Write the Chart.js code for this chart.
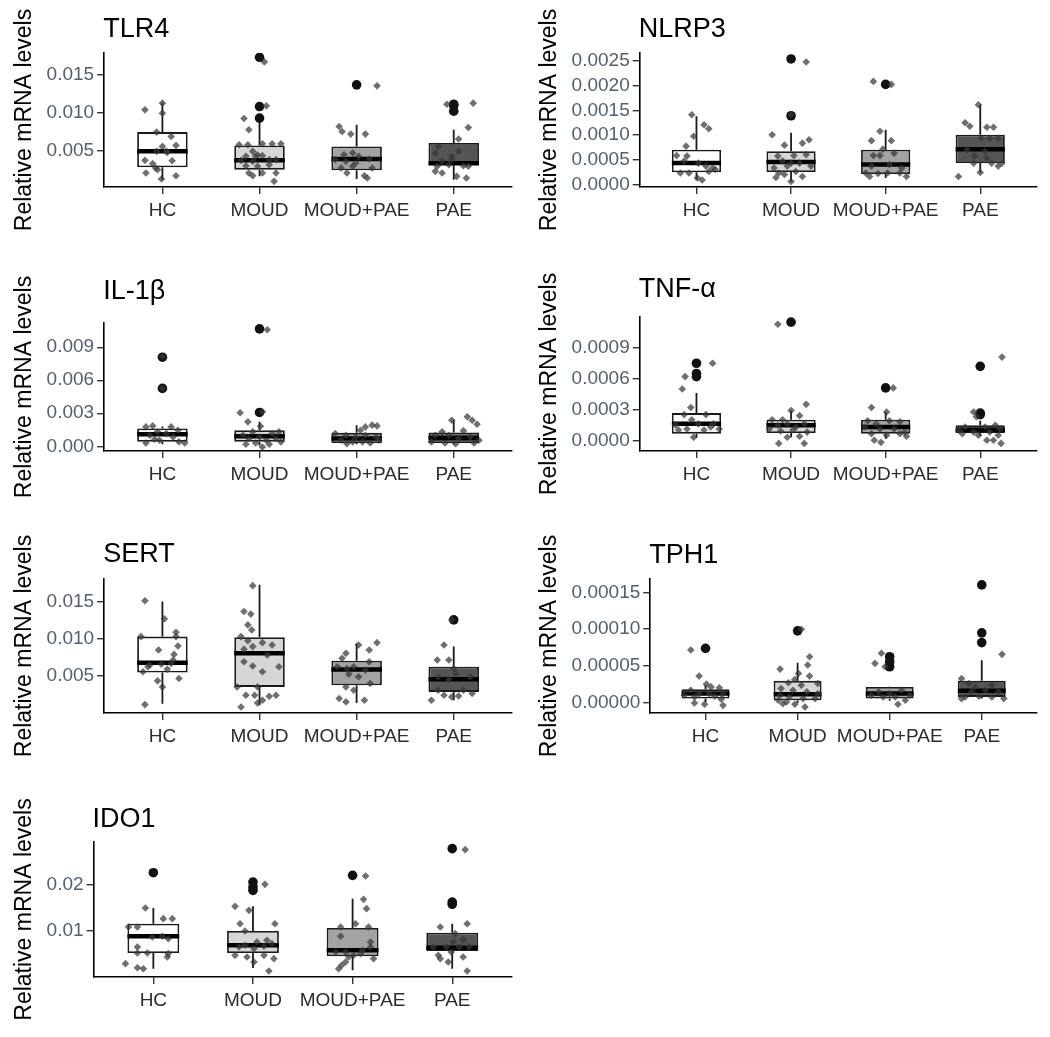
<!DOCTYPE html>
<html>
<head>
<meta charset="utf-8">
<script src="https://cdn.jsdelivr.net/npm/chart.js@4.4.1/dist/chart.umd.min.js"></script>
<style>
body { margin: 0; background: #fff; overflow: hidden; }
#wrap { position: relative; width: 1050px; height: 1037px; }
#wrap canvas { position: absolute; }
</style>
</head>
<body>
<div id="wrap"></div>
<script>
const groups = ['HC', 'MOUD', 'MOUD+PAE', 'PAE'];

// box rows: [lower whisker, Q1, median, Q3, upper whisker]
// outliers: [group, value]; points: [jittered x, value]

// TLR4
const tlr4Ticks = [0.005, 0.010, 0.015];
const tlr4Labels = ['0.005', '0.010', '0.015'];
const tlr4Lim = [0.00015, 0.0179];
const tlr4Box = [
	[0.00112, 0.00275, 0.00487, 0.00742, 0.01130],
	[0.00156, 0.00245, 0.00370, 0.00566, 0.00883],
	[0.00121, 0.00236, 0.00385, 0.00553, 0.00839],
	[0.00112, 0.00302, 0.00330, 0.00597, 0.00773]
];
const tlr4Out = [[2, 0.01733], [2, 0.01081], [2, 0.00927], [3, 0.01368], [4, 0.01112], [4, 0.01090], [4, 0.01020]];
const tlr4Pts = [
	[0.82, 0.01037], [1.00, 0.01126], [1.00, 0.00993], [0.94, 0.00742], [1.09, 0.00685], [1.00, 0.00553], [1.14, 0.00566], [0.94, 0.00487], [1.04, 0.00487],
	[1.10, 0.00363], [0.82, 0.00368], [0.90, 0.00324], [0.93, 0.00267], [0.83, 0.00200], [0.95, 0.00245], [0.99, 0.00121], [1.14, 0.00165], [1.05, 0.00474],
	[2.05, 0.01672], [2.07, 0.01090], [1.84, 0.00923], [1.89, 0.00773], [1.79, 0.00575], [1.88, 0.00575], [2.03, 0.00588], [2.13, 0.00588], [2.22, 0.00588],
	[1.93, 0.00487], [1.86, 0.00421], [1.96, 0.00421], [2.03, 0.00430], [1.81, 0.00368], [1.93, 0.00355], [2.10, 0.00377], [2.17, 0.00377], [1.86, 0.00297],
	[1.98, 0.00289], [2.10, 0.00311], [1.89, 0.00200], [2.03, 0.00200], [2.17, 0.00200], [1.93, 0.00165], [2.15, 0.00090], [1.98, 0.00443],
	[3.21, 0.01355], [2.82, 0.00817], [2.85, 0.00750], [2.94, 0.00716], [3.09, 0.00716], [2.87, 0.00443], [2.96, 0.00465], [3.02, 0.00421], [2.89, 0.00355],
	[2.99, 0.00333], [3.13, 0.00385], [2.84, 0.00267], [2.96, 0.00289], [3.16, 0.00267], [2.90, 0.00200], [3.08, 0.00165], [3.11, 0.00134], [2.78, 0.00377],
	[4.20, 0.01126], [4.15, 0.00804], [4.05, 0.00650], [3.84, 0.00553], [3.81, 0.00465], [3.98, 0.00421], [3.88, 0.00355], [3.83, 0.00289], [3.95, 0.00311],
	[4.10, 0.00297], [4.15, 0.00289], [3.81, 0.00222], [3.88, 0.00200], [4.03, 0.00156], [4.13, 0.00134], [3.98, 0.00377], [4.05, 0.00487], [3.93, 0.01112]
];

// NLRP3
const nlrp3Ticks = [0, 0.0005, 0.0010, 0.0015, 0.0020, 0.0025];
const nlrp3Labels = ['0.0000', '0.0005', '0.0010', '0.0015', '0.0020', '0.0025'];
const nlrp3Lim = [-0.00004, 0.00265];
const nlrp3Box = [
	[0.00011, 0.000255, 0.00044, 0.00071, 0.00138],
	[0.00007, 0.00026, 0.00046, 0.00068, 0.00105],
	[0.00014, 0.00022, 0.00041, 0.00071, 0.00111],
	[0.00025, 0.00044, 0.00072, 0.00101, 0.00161]
];
const nlrp3Out = [[2, 0.00253], [2, 0.00139], [3, 0.00202]];
const nlrp3Pts = [
	[0.95, 0.00141], [1.08, 0.00121], [1.13, 0.00113], [0.97, 0.00098], [0.89, 0.00078], [0.90, 0.00058], [0.79, 0.00059], [0.87, 0.00048], [1.02, 0.00044],
	[1.10, 0.00038], [1.17, 0.00034], [0.83, 0.00024], [0.92, 0.00024], [1.13, 0.00027], [1.01, 0.00014], [1.06, 0.00010], [1.20, 0.00031],
	[2.16, 0.00247], [2.00, 0.00141], [1.80, 0.00101], [1.93, 0.00080], [2.12, 0.00084], [2.19, 0.00091], [1.86, 0.00058], [2.03, 0.00059], [2.16, 0.00061],
	[1.91, 0.00048], [2.00, 0.00044], [2.09, 0.00044], [1.82, 0.00034], [1.96, 0.00038], [2.21, 0.00038], [1.87, 0.00024], [2.05, 0.00027], [2.12, 0.00017],
	[1.84, 0.00015], [2.00, 0.00007], [1.93, 0.00021],
	[2.87, 0.00208], [3.06, 0.00202], [2.94, 0.00108], [2.85, 0.00089], [3.06, 0.00089], [2.97, 0.00072], [2.87, 0.00059], [2.94, 0.00059], [3.09, 0.00064],
	[2.85, 0.00038], [3.04, 0.00041], [3.17, 0.00034], [2.79, 0.00024], [2.92, 0.00023], [3.02, 0.00024], [3.15, 0.00024], [2.83, 0.00017], [3.22, 0.00017],
	[3.98, 0.00161], [3.84, 0.00125], [3.89, 0.00118], [4.07, 0.00116], [4.14, 0.00116], [4.01, 0.00094], [4.10, 0.00094], [4.19, 0.00094], [3.86, 0.00071],
	[4.05, 0.00068], [3.94, 0.00058], [3.93, 0.00044], [4.12, 0.00044], [4.07, 0.00054], [4.19, 0.00038], [4.00, 0.00025], [3.77, 0.00017], [4.23, 0.00044]
];

// IL-1β
const il1bTicks = [0, 0.003, 0.006, 0.009];
const il1bLabels = ['0.000', '0.003', '0.006', '0.009'];
const il1bLim = [-0.00043, 0.0112];
const il1bBox = [
	[0.00018, 0.00040, 0.00110, 0.00161, 0.00180],
	[0.00006, 0.00040, 0.00091, 0.00146, 0.00222],
	[0.00018, 0.00030, 0.00070, 0.00122, 0.00192],
	[0.00015, 0.00030, 0.00076, 0.00125, 0.00237]
];
const il1bOut = [[1, 0.00809], [1, 0.00526], [2, 0.01067], [2, 0.00307]];
const il1bPts = [
	[1.00, 0.00815], [1.00, 0.00526], [0.83, 0.00176], [0.90, 0.00185], [1.09, 0.00176], [1.16, 0.00146], [0.95, 0.00131], [1.04, 0.00116], [0.87, 0.00100],
	[1.11, 0.00085], [0.97, 0.00055], [0.83, 0.00030], [1.17, 0.00040], [1.23, 0.00030], [0.92, 0.00064],
	[2.08, 0.01058], [1.80, 0.00304], [1.88, 0.00222], [2.03, 0.00313], [2.01, 0.00182], [1.93, 0.00131], [2.13, 0.00116], [2.20, 0.00131], [1.83, 0.00100],
	[1.89, 0.00070], [2.00, 0.00085], [2.07, 0.00055], [2.17, 0.00070], [1.96, 0.00030], [2.10, 0.00018], [1.86, 0.00018], [2.03, -0.00006], [2.22, 0.00040],
	[3.09, 0.00176], [3.16, 0.00192], [3.21, 0.00185], [3.04, 0.00146], [2.78, 0.00116], [2.89, 0.00100], [2.99, 0.00085], [3.09, 0.00100], [3.20, 0.00085],
	[2.84, 0.00055], [2.96, 0.00040], [3.06, 0.00040], [3.14, 0.00030], [2.90, 0.00024], [3.23, 0.00055],
	[3.98, 0.00237], [4.14, 0.00268], [4.19, 0.00237], [4.24, 0.00200], [3.88, 0.00131], [4.10, 0.00140], [3.81, 0.00100], [3.95, 0.00100], [4.05, 0.00070],
	[4.17, 0.00085], [3.77, 0.00040], [3.91, 0.00030], [4.02, 0.00024], [4.21, 0.00030], [4.26, 0.00055]
];

// TNF-α
const tnfTicks = [0, 0.0003, 0.0006, 0.0009];
const tnfLabels = ['0.0000', '0.0003', '0.0006', '0.0009'];
const tnfLim = [-0.000104, 0.0012];
const tnfBox = [
	[0.000026, 0.000065, 0.000160, 0.000265, 0.000460],
	[0.000030, 0.000070, 0.000146, 0.000200, 0.000290],
	[0.000016, 0.000065, 0.000130, 0.000200, 0.000275],
	[0.000040, 0.000070, 0.000100, 0.000146, 0.000190]
];
const tnfOut = [[1, 0.00075], [1, 0.00065], [1, 0.00062], [2, 0.00115], [3, 0.00051], [4, 0.00072], [4, 0.000265], [4, 0.00025]];
const tnfPts = [
	[1.17, 0.00075], [0.88, 0.00062], [0.85, 0.00050], [0.94, 0.00032], [0.87, 0.00025], [1.10, 0.00025], [0.95, 0.00020], [1.02, 0.00016], [0.78, 0.00015],
	[1.18, 0.00016], [0.90, 0.00011], [1.08, 0.00010], [1.15, 0.00013], [0.81, 0.00010], [0.97, 0.00003], [1.24, 0.00011],
	[1.86, 0.00113], [2.00, 0.00029], [2.16, 0.00035], [1.80, 0.00020], [1.91, 0.00020], [2.09, 0.00024], [1.86, 0.000146], [1.96, 0.00016], [2.05, 0.00013],
	[2.14, 0.00016], [1.77, 0.00011], [1.89, 0.00009], [2.02, 0.00010], [2.17, 0.00008], [1.96, 0.00003], [2.09, 0.00004], [1.87, -0.00003], [2.14, -0.00003],
	[3.08, 0.00051], [2.85, 0.00032], [3.01, 0.000275], [2.81, 0.00019], [2.90, 0.00016], [3.04, 0.00019], [3.15, 0.00018], [2.78, 0.00013], [2.94, 0.00011],
	[3.09, 0.00011], [3.20, 0.00008], [2.85, 0.000065], [3.01, 0.00005], [3.15, 0.000065], [2.88, 0.0], [2.95, -0.00002], [3.22, 0.00004],
	[4.23, 0.00081], [3.93, 0.000275], [3.96, 0.00023], [3.84, 0.00013], [4.05, 0.00013], [4.16, 0.000146], [3.77, 0.00010], [3.93, 0.00008], [4.10, 0.00008],
	[4.21, 0.00011], [3.98, 0.00005], [4.19, 0.00005], [4.07, 0.0], [4.14, 0.0], [4.22, -0.00003], [3.81, 0.000065]
];

// SERT
const sertTicks = [0.005, 0.010, 0.015];
const sertLabels = ['0.005', '0.010', '0.015'];
const sertLim = [0.000067, 0.0180];
const sertBox = [
	[0.00132, 0.00549, 0.00679, 0.01029, 0.01500],
	[0.00110, 0.00356, 0.00805, 0.01020, 0.01724],
	[0.00141, 0.00379, 0.00590, 0.00706, 0.00940],
	[0.00177, 0.00289, 0.00460, 0.00626, 0.00895]
];
const sertOut = [[4, 0.01253]];
const sertPts = [
	[0.82, 0.01509], [1.02, 0.01267], [1.14, 0.01087], [0.78, 0.01029], [1.14, 0.01029], [0.96, 0.00850], [1.16, 0.00904], [1.12, 0.00791], [1.11, 0.00715],
	[0.87, 0.00648], [0.99, 0.00661], [1.09, 0.00670], [0.80, 0.00558], [1.05, 0.00594], [1.17, 0.00469], [0.95, 0.00437], [1.00, 0.00356], [0.82, 0.00119], [0.85, 0.00626],
	[1.93, 0.01711], [1.84, 0.01365], [1.91, 0.01330], [1.88, 0.01186], [1.92, 0.01119], [1.81, 0.01029], [1.88, 0.00975], [1.84, 0.00859], [1.93, 0.00895],
	[2.03, 0.00948], [2.13, 0.00917], [2.08, 0.00783], [1.84, 0.00693], [1.93, 0.00635], [2.03, 0.00558], [2.20, 0.00626], [1.77, 0.00356], [1.98, 0.00356],
	[1.86, 0.00244], [1.95, 0.00244], [2.03, 0.00177], [2.17, 0.00244], [2.10, 0.00230], [1.81, 0.00087], [1.98, 0.00141],
	[3.21, 0.00948], [3.02, 0.00917], [3.13, 0.00850], [2.89, 0.00805], [2.85, 0.00738], [2.80, 0.00626], [2.90, 0.00603], [2.97, 0.00626], [3.09, 0.00581],
	[3.13, 0.00693], [2.92, 0.00527], [3.02, 0.00491], [3.14, 0.00401], [2.89, 0.00356], [2.97, 0.00312], [2.82, 0.00200], [2.89, 0.00155], [3.08, 0.00177],
	[3.98, 0.01253], [3.90, 0.00917], [3.83, 0.00715], [3.95, 0.00715], [4.00, 0.00603], [4.02, 0.00536], [3.84, 0.00491], [4.17, 0.00491], [3.95, 0.00455],
	[3.84, 0.00312], [4.10, 0.00312], [3.90, 0.00244], [4.05, 0.00235], [4.19, 0.00267], [3.77, 0.00177], [3.98, 0.00222]
];

// TPH1
const tph1Ticks = [0, 0.00005, 0.00010, 0.00015];
const tph1Labels = ['0.00000', '0.00005', '0.00010', '0.00015'];
const tph1Lim = [-0.0000136, 0.000168];
const tph1Box = [
	[0.0000014, 0.0000059, 0.0000127, 0.0000186, 0.0000240],
	[0.0000000, 0.0000036, 0.0000118, 0.0000300, 0.0000545],
	[0.0000030, 0.0000059, 0.0000127, 0.0000218, 0.0000220],
	[0.0000059, 0.0000082, 0.0000164, 0.0000300, 0.0000580]
];
const tph1Out = [[1, 0.000074], [2, 0.0000977], [3, 0.0000627], [3, 0.0000560], [3, 0.0000491], [4, 0.000160], [4, 0.000095], [4, 0.0000818]];
const tph1Pts = [
	[0.84, 0.0000718], [0.93, 0.0000364], [1.01, 0.0000255], [1.06, 0.0000218], [0.84, 0.0000173], [1.15, 0.0000205], [0.93, 0.0000127], [1.04, 0.0000127],
	[1.19, 0.0000127], [0.77, 0.0000105], [0.88, 0.0000082], [1.10, 0.0000091], [1.17, 0.0000050], [0.88, 0.0000000], [0.99, -0.0000018], [1.19, -0.0000032],
	[2.04, 0.0001000], [2.13, 0.0000627], [1.81, 0.0000459], [2.01, 0.0000400], [2.11, 0.0000514], [1.97, 0.0000318], [2.13, 0.0000364], [1.90, 0.0000273],
	[2.04, 0.0000241], [2.22, 0.0000264], [1.82, 0.0000195], [1.95, 0.0000173], [2.10, 0.0000150], [1.81, 0.0000105], [1.91, 0.0000082], [2.06, 0.0000059],
	[1.79, 0.0000036], [1.88, 0.0000014], [1.97, -0.0000018], [2.08, -0.0000055], [2.19, 0.0000059], [2.22, 0.0000127], [1.84, -0.0000010],
	[2.91, 0.0000673], [2.84, 0.0000536], [2.95, 0.0000491], [3.00, 0.0000127], [2.88, 0.0000150], [3.13, 0.0000173], [2.80, 0.0000105], [3.06, 0.0000082],
	[3.17, 0.0000036], [3.09, -0.0000018], [2.93, 0.0000082], [3.22, 0.0000105],
	[4.22, 0.0000659], [3.78, 0.0000332], [3.86, 0.0000264], [3.93, 0.0000218], [4.11, 0.0000241], [3.89, 0.0000150], [4.04, 0.0000173], [4.18, 0.0000150],
	[3.82, 0.0000082], [3.97, 0.0000091], [4.11, 0.0000082], [4.24, 0.0000059], [3.78, 0.0000059]
];

// IDO1
const ido1Ticks = [0.01, 0.02];
const ido1Labels = ['0.01', '0.02'];
const ido1Lim = [-0.00022, 0.02935];
const ido1Box = [
	[0.00160, 0.00504, 0.00869, 0.01146, 0.01489],
	[0.00175, 0.00504, 0.00672, 0.00985, 0.01526],
	[0.00124, 0.00431, 0.00562, 0.01051, 0.01694],
	[0.00160, 0.00547, 0.00620, 0.00949, 0.01146]
];
const ido1Out = [[1, 0.02263], [2, 0.02058], [2, 0.01949], [2, 0.01876], [3, 0.02205], [4, 0.02789], [4, 0.01620], [4, 0.01570]];
const ido1Pts = [
	[0.92, 0.01489], [0.84, 0.01073], [1.10, 0.01256], [1.19, 0.01256], [0.75, 0.01073], [1.09, 0.00869], [1.15, 0.00818], [0.84, 0.00635], [0.94, 0.00504],
	[0.84, 0.00504], [1.15, 0.00489], [1.14, 0.00416], [0.72, 0.00270], [0.84, 0.00182], [0.90, 0.00160], [0.99, 0.00854],
	[2.12, 0.02007], [1.82, 0.01526], [1.96, 0.01438], [1.87, 0.01146], [2.22, 0.01146], [1.92, 0.00985], [1.92, 0.00672], [2.04, 0.00745], [2.14, 0.00781],
	[2.19, 0.00708], [2.11, 0.00650], [2.01, 0.00599], [1.82, 0.00452], [1.94, 0.00416], [2.11, 0.00452], [2.21, 0.00380], [2.01, 0.00307], [2.16, 0.00109], [1.86, 0.00635],
	[3.13, 0.02190], [3.11, 0.01679], [3.14, 0.01475], [3.03, 0.01146], [2.88, 0.01073], [3.16, 0.01073], [2.88, 0.00869], [3.18, 0.00745], [2.83, 0.00526],
	[2.93, 0.00526], [3.10, 0.00562], [3.18, 0.00635], [3.01, 0.00453], [3.21, 0.00380], [2.93, 0.00307], [2.89, 0.00233], [2.86, 0.00160], [2.96, 0.00416], [3.08, 0.00489],
	[4.13, 0.02767], [3.88, 0.01073], [4.15, 0.01146], [4.03, 0.00927], [4.11, 0.00796], [3.81, 0.00635], [3.94, 0.00635], [4.07, 0.00635], [4.17, 0.00635],
	[3.86, 0.00453], [3.99, 0.00526], [4.11, 0.00416], [3.88, 0.00380], [3.96, 0.00307], [4.15, 0.00109], [4.01, 0.00745]
];

const panels = [
	{ title: 'TLR4', ticks: tlr4Ticks, labels: tlr4Labels, lim: tlr4Lim, box: tlr4Box, out: tlr4Out, pts: tlr4Pts },
	{ title: 'NLRP3', ticks: nlrp3Ticks, labels: nlrp3Labels, lim: nlrp3Lim, box: nlrp3Box, out: nlrp3Out, pts: nlrp3Pts },
	{ title: 'IL-1β', ticks: il1bTicks, labels: il1bLabels, lim: il1bLim, box: il1bBox, out: il1bOut, pts: il1bPts },
	{ title: 'TNF-α', ticks: tnfTicks, labels: tnfLabels, lim: tnfLim, box: tnfBox, out: tnfOut, pts: tnfPts },
	{ title: 'SERT', ticks: sertTicks, labels: sertLabels, lim: sertLim, box: sertBox, out: sertOut, pts: sertPts },
	{ title: 'TPH1', ticks: tph1Ticks, labels: tph1Labels, lim: tph1Lim, box: tph1Box, out: tph1Out, pts: tph1Pts },
	{ title: 'IDO1', ticks: ido1Ticks, labels: ido1Labels, lim: ido1Lim, box: ido1Box, out: ido1Out, pts: ido1Pts }
];

// page placement: canvas left/top/height, plot top, plot bottom, title baseline (page px)
const placement = [
	[0, 0, 262, 53, 187, 37],
	[525, 0, 262, 53, 187, 37],
	[0, 262, 262, 323, 451, 299],
	[525, 262, 262, 317, 451, 297],
	[0, 524, 262, 579, 713, 562],
	[525, 524, 262, 579, 713, 563],
	[0, 786, 251, 842, 977, 827]
];

const FONT = '"Liberation Sans", Arial, sans-serif';
const boxFill = ['#ffffff', '#d6d6d6', '#a3a3a3', '#555555'];
const BOX_W = 0.52;
const X_TICK_PAD = 5;
// tick mark + label line height + padding on both sides (Chart.js doubles it)
const X_AXIS_H = 7 + 19 * 1.2 + 2 * X_TICK_PAD;

const panelTitle = {
	id: 'panelTitle',
	afterDraw(chart, args, opts) {
		const ctx = chart.ctx;
		ctx.save();
		ctx.font = `27px ${FONT}`;
		ctx.fillStyle = '#000';
		ctx.textBaseline = 'alphabetic';
		ctx.fillText(opts.text, chart.chartArea.left - 1, opts.y);
		ctx.restore();
	}
};

function axisGrid() {
	return { display: true, offset: false, drawOnChartArea: false, drawTicks: true, tickLength: 7, color: '#333333', lineWidth: 1.4 };
}

function drawPanel(p, place) {
	const [left, top, height, plotTop, plotBottom, titleY] = place;
	const canvas = document.createElement('canvas');
	canvas.width = 525;
	canvas.height = height;
	canvas.style.left = left + 'px';
	canvas.style.top = top + 'px';
	document.getElementById('wrap').appendChild(canvas);

	const whiskers = [];
	const medians = [];
	p.box.forEach((b, i) => {
		const x = i + 1;
		whiskers.push({ x, y: b[3] }, { x, y: b[4] }, { x, y: null }, { x, y: b[0] }, { x, y: b[1] }, { x, y: null });
		medians.push({ x: x - BOX_W / 2, y: b[2] }, { x: x + BOX_W / 2, y: b[2] }, { x, y: null });
	});

	new Chart(canvas, {
		type: 'scatter',
		data: {
			datasets: [{
				type: 'scatter',
				data: p.pts.map(d => ({ x: d[0], y: d[1] })),
				pointStyle: 'rectRot',
				pointRadius: 3.8,
				backgroundColor: 'rgba(55,55,55,0.72)',
				borderWidth: 0,
				order: 0
			}, {
				type: 'scatter',
				data: p.out.map(d => ({ x: d[0], y: d[1] })),
				pointStyle: 'circle',
				pointRadius: 4.8,
				backgroundColor: '#111111',
				borderWidth: 0,
				order: 1
			}, {
				type: 'scatter',
				data: medians,
				showLine: true,
				spanGaps: false,
				borderColor: '#000',
				borderWidth: 4.5,
				borderCapStyle: 'butt',
				pointRadius: 0,
				order: 2
			}, {
				type: 'bar',
				data: p.box.map((b, i) => ({ x: i + 1, y: [b[1], b[3]] })),
				backgroundColor: boxFill,
				borderColor: '#1a1a1a',
				borderWidth: 1.8,
				borderSkipped: false,
				barPercentage: BOX_W,
				categoryPercentage: 1,
				order: 3
			}, {
				type: 'scatter',
				data: whiskers,
				showLine: true,
				spanGaps: false,
				borderColor: '#1a1a1a',
				borderWidth: 1.8,
				pointRadius: 0,
				order: 4
			}]
		},
		options: {
			responsive: false,
			animation: false,
			events: [],
			layout: {
				padding: { left: 0, right: 13, top: plotTop - top, bottom: height - (plotBottom - top) - X_AXIS_H }
			},
			plugins: {
				legend: { display: false },
				tooltip: { enabled: false },
				panelTitle: { text: p.title, y: titleY - top }
			},
			scales: {
				x: {
					type: 'linear',
					min: 0.4,
					max: 4.6,
					offset: false,
					grid: axisGrid(),
					border: { display: true, color: '#000', width: 1.6 },
					afterBuildTicks: s => { s.ticks = groups.map((g, i) => ({ value: i + 1 })); },
					ticks: {
						autoSkip: false,
						maxRotation: 0,
						padding: X_TICK_PAD,
						color: '#2b2b2b',
						font: { family: FONT, size: 19 },
						callback: (v, i) => groups[i]
					}
				},
				y: {
					type: 'linear',
					min: p.lim[0],
					max: p.lim[1],
					grid: axisGrid(),
					border: { display: true, color: '#000', width: 1.6 },
					afterBuildTicks: s => { s.ticks = p.ticks.map(v => ({ value: v })); },
					ticks: {
						padding: 3,
						color: '#52606f',
						font: { family: FONT, size: 19 },
						callback: (v, i) => p.labels[i]
					},
					title: {
						display: true,
						text: 'Relative mRNA levels',
						color: '#000',
						font: { family: FONT, size: 23 },
						padding: { top: 11, bottom: 5 }
					}
				}
			}
		},
		plugins: [panelTitle]
	});
}

panels.forEach((p, i) => drawPanel(p, placement[i]));
</script>
</body>
</html>
